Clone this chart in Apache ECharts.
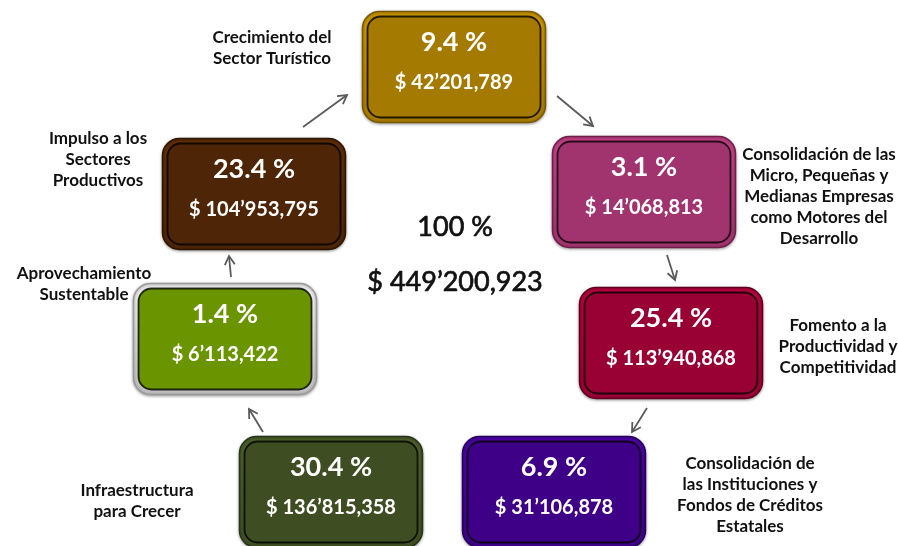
<!DOCTYPE html>
<html>
<head>
<meta charset="utf-8">
<script src="https://cdn.jsdelivr.net/npm/echarts@6/dist/echarts.min.js"></script>
<style>
  html, body { margin: 0; background: #fff; }
  #chart { width: 899px; height: 546px; }
</style>
</head>
<body>
<div id="chart"></div>
<script>
// --- data ---
const programs = [
  "Crecimiento del\nSector Turístico",
  "Consolidación de las\nMicro, Pequeñas y\nMedianas Empresas\ncomo Motores del\nDesarrollo",
  "Fomento a la\nProductividad y\nCompetitividad",
  "Consolidación de\nlas Instituciones y\nFondos de Créditos\nEstatales",
  "Infraestructura\npara Crecer",
  "Aprovechamiento\nSustentable",
  "Impulso a los\nSectores\nProductivos",
];
const percents = [9.4, 3.1, 25.4, 6.9, 30.4, 1.4, 23.4];
const amounts = [42201789, 14068813, 113940868, 31106878, 136815358, 6113422, 104953795];
const totalPercent = 100;
const totalAmount = 449200923;

// --- layout (diagram positions, not data) ---
const boxColors = ["#A57A00", "#A1346E", "#990034", "#3F0088", "#3F4E22", "#6A9400", "#4E2506"];
const boxRing = ["#7a5a00", "#6e1f4a", "#5e0020", "#27005a", "#27331a", "#9a9a9a", "#2e1502"];
const boxCenters = [[454, 67], [644, 192], [671, 343], [554, 492], [331, 492], [225, 339], [254, 194]];
const labelCenters = [[272, 48], [819, 197], [838, 347], [750, 495], [137, 501], [84, 284], [98, 160]];
const arrows = [
  [557, 96, 593, 126],
  [667, 255, 675, 280],
  [647, 408, 632, 432],
  null,
  [263, 432, 249, 409],
  [231, 277, 229, 256],
  [303, 127, 347, 95],
];
const boxW = 183, boxH = 111;
const FONT = "Lato, 'Open Sans', sans-serif";

function fmtAmount(v) {
  const mill = Math.floor(v / 1e6);
  const rest = String(v % 1e6).padStart(6, "0");
  return "$ " + (mill > 0 ? mill + "’" : "") + rest.slice(0, 3) + "," + rest.slice(3);
}

const chart = echarts.init(document.getElementById("chart"));

function renderItem(params, api) {
  const i = params.dataIndex;
  const [cx, cy] = boxCenters[i];
  const x = cx - boxW / 2, y = cy - boxH / 2;
  const color = boxColors[i];
  const children = [
    {
      type: "rect",
      shape: { x, y, width: boxW, height: boxH, r: 17 },
      style: {
        fill: i === 5
          ? new echarts.graphic.LinearGradient(0, 0, 0, 1, [
              { offset: 0, color: "#f2f2f2" }, { offset: 1, color: "#bdbdbd" }])
          : new echarts.graphic.LinearGradient(0, 0, 0, 1, [
              { offset: 0, color: echarts.color.lift(color, -0.25) }, { offset: 1, color: color }]),
        stroke: boxRing[i],
        lineWidth: 1.5,
        shadowBlur: 3,
        shadowOffsetY: 1,
        shadowColor: "rgba(0,0,0,0.35)",
      },
    },
    {
      type: "rect",
      shape: { x: x + 5, y: y + 5, width: boxW - 10, height: boxH - 10, r: 13 },
      style: { fill: color, stroke: "rgba(0,0,0,0.8)", lineWidth: 1.8 },
    },
    {
      type: "text",
      style: {
        text: percents[i] + " %", x: cx, y: cy - 25,
        fill: "#fff", font: "bold 27px " + FONT, align: "center", verticalAlign: "middle",
      },
    },
    {
      type: "text",
      style: {
        text: fmtAmount(amounts[i]), x: cx, y: cy + 16,
        fill: "#fff", font: "bold 20px " + FONT, align: "center", verticalAlign: "middle",
      },
    },
    {
      type: "text",
      style: {
        text: programs[i], x: labelCenters[i][0], y: labelCenters[i][1],
        fill: "#111", font: "bold 17px " + FONT, lineHeight: 21,
        align: "center", verticalAlign: "middle",
      },
    },
  ];
  const a = arrows[i];
  if (a) {
    const ang = Math.atan2(a[3] - a[1], a[2] - a[0]);
    const hl = 10, sp = Math.PI / 6;
    children.push({
      type: "line",
      shape: { x1: a[0], y1: a[1], x2: a[2], y2: a[3] },
      style: { stroke: "#5a5a5a", lineWidth: 1.8 },
    });
    children.push({
      type: "polyline",
      shape: {
        points: [
          [a[2] - hl * Math.cos(ang - sp), a[3] - hl * Math.sin(ang - sp)],
          [a[2], a[3]],
          [a[2] - hl * Math.cos(ang + sp), a[3] - hl * Math.sin(ang + sp)],
        ],
      },
      style: { stroke: "#5a5a5a", lineWidth: 1.8, fill: null },
    });
  }
  return { type: "group", children };
}

chart.setOption({
  backgroundColor: "#fff",
  animation: false,
  graphic: [
    {
      type: "text", left: 457 - 40, top: 228 - 15,
      style: {
        text: totalPercent + " %", font: "27px " + FONT, fill: "#111",
        stroke: "#111", lineWidth: 0.7, width: 80, align: "center",
      },
    },
    {
      type: "text", left: 457 - 90, top: 284 - 16,
      style: {
        text: fmtAmount(totalAmount), font: "27px " + FONT, fill: "#111",
        stroke: "#111", lineWidth: 0.7, width: 180, align: "center",
      },
    },
  ],
  series: [
    {
      type: "custom",
      coordinateSystem: "none",
      renderItem,
      data: percents.map((p, i) => [i, p, amounts[i]]),
    },
  ],
});
</script>
</body>
</html>
